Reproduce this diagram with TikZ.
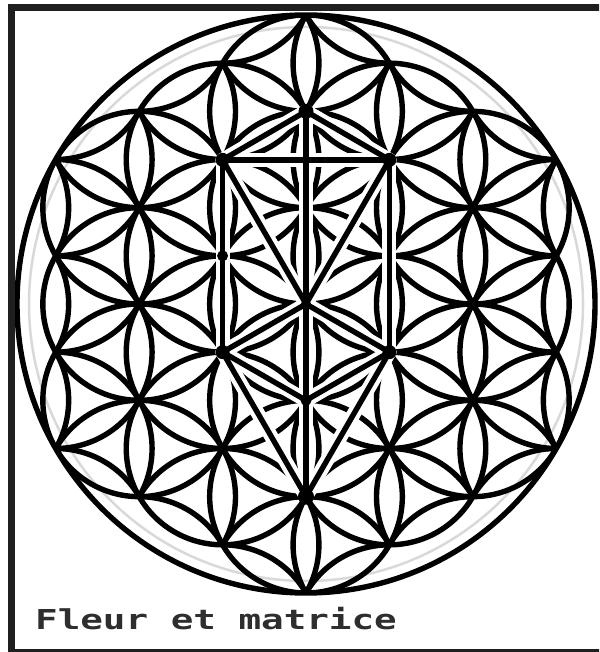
\documentclass[tikz,border=0pt]{standalone}
\usepackage{fontspec}
\newfontfamily\labelmono{DejaVu Sans Mono}
\begin{document}
\begin{tikzpicture}[x=1pt,y=1pt,
  petal/.style={line width=5.4pt, black, line cap=round},
  casing/.style={white, line width=14pt, line cap=round},
  treeline/.style={black, line width=5.4pt, line cap=round},
  sephira/.style={circle, fill=black, inner sep=0pt, minimum size=#1},
  sephira/.default=13pt,
  frameline/.style={line width=7pt, black!88}]
\useasboundingbox (0,0) rectangle (599,652);
\clip (0,0) rectangle (599,652);
\fill[white] (0,0) rectangle (599,652);
\coordinate (O) at (306,348);
% faint inner ring
\draw[black!15, line width=2.5pt] (O) circle[radius=277pt];
% flower of life: every petal whose two tips lie inside the outer circle
\begin{scope}
  \clip (O) circle[radius=289pt];
  \foreach \i in {-5,...,5} {
    \foreach \j in {-7,...,7} {
      \pgfmathsetmacro\cx{306+(\i)*83.42}
      \pgfmathsetmacro\cy{348+(\j)*96.33+(\i)*48.165}
      \foreach \k in {0,...,5} {
        \pgfmathsetmacro\aa{30+60*\k}
        \pgfmathsetmacro\da{veclen(\cx+96.33*cos(\aa)-306,\cy+96.33*sin(\aa)-348)}
        \pgfmathsetmacro\db{veclen(\cx+96.33*cos(\aa+60)-306,\cy+96.33*sin(\aa+60)-348)}
        \pgfmathtruncatemacro\ok{((\da<292)&&(\db<292)) ? 1 : 0}
        \ifnum\ok=1
          \draw[petal] (\cx pt,\cy pt) ++(\aa:96.33pt) arc[start angle=\aa, end angle=\aa+60, radius=96.33pt];
        \fi
      }
    }
  }
\end{scope}
\draw[line width=5.4pt] (O) circle[radius=289pt];
% tree of life
\coordinate (K)  at (306,540.66);
\coordinate (Bi) at (222.58,492.16);
\coordinate (Ch) at (389.42,492.16);
\coordinate (Da) at (222.58,396.16);
\coordinate (Ti) at (306,348);
\coordinate (Ho) at (222.58,299.83);
\coordinate (Ne) at (389.42,299.83);
\coordinate (Ye) at (306,251.67);
\coordinate (Ma) at (306,155.34);
\foreach \a/\b in {K/Bi,K/Ch,Bi/Ch,K/Ti,Ti/Ye,Ye/Ma,Bi/Da,Da/Ho,Ch/Ne,Bi/Ti,Ch/Ti,Ti/Ho,Ti/Ne,Ho/Ye,Ne/Ye,Ho/Ma,Ne/Ma}
  \draw[casing] (\a) -- (\b);
\foreach \a/\b in {K/Bi,K/Ch,Bi/Ch,K/Ti,Ti/Ye,Ye/Ma,Bi/Da,Da/Ho,Ch/Ne,Bi/Ti,Ch/Ti,Ti/Ho,Ti/Ne,Ho/Ye,Ne/Ye,Ho/Ma,Ne/Ma}
  \draw[treeline] (\a) -- (\b);
\node[sephira=15pt] (Kd) at (K) {};
\node[sephira=14pt] (Bid) at (Bi) {};
\node[sephira=14pt] (Chd) at (Ch) {};
\node[sephira=11pt] (Dad) at (Da) {};
\node[sephira=10pt] (Tid) at (Ti) {};
\node[sephira=14pt] (Hod) at (Ho) {};
\node[sephira=14pt] (Ned) at (Ne) {};
\node[sephira=11pt] (Yed) at (Ye) {};
\node[sephira=16pt] (Mad) at (Ma) {};
% caption
\node[anchor=base west, inner sep=0pt, text=black!82, font=\labelmono\bfseries\fontsize{27.4}{30}\selectfont] (title) at (35,22) {\scalebox{1.37}[1]{Fleur et matrice}};
% frame
\draw[frameline] (11,644) rectangle (640,-0.5);
\end{tikzpicture}
\end{document}
